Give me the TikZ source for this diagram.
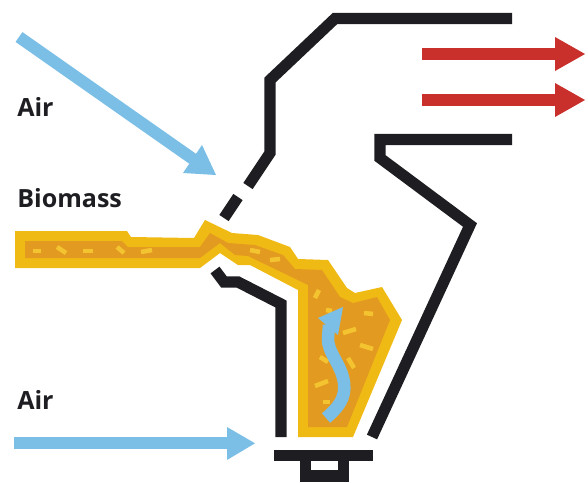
\documentclass[tikz,border=0pt]{standalone}
\usepackage{fontspec}
\setmainfont{Open Sans}
\definecolor{airblue}{HTML}{7BBFE6}
\definecolor{flue}{HTML}{C9302C}
\definecolor{fuelrim}{HTML}{F0BA14}
\definecolor{fuelcore}{HTML}{E39A20}
\definecolor{fleck}{HTML}{F4C430}
\definecolor{wall}{HTML}{1E1E22}
\tikzset{
  wallline/.style={draw=wall,line width=8.4pt,line join=miter,line cap=butt},
  flowshaft/.style={line width=9pt,line cap=butt},
  fleckmark/.style={draw=fleck,line width=3.4pt},
  label/.style={font=\bfseries\fontsize{18.8}{22}\selectfont,text=wall,anchor=base west,inner sep=0pt},
}
\begin{document}
\begin{tikzpicture}[x=0.75pt,y=-0.75pt]
\useasboundingbox (0,0) rectangle (588,482);

% fuel bed: rim and core
\fill[fuelrim] (15,231) -- (127,231) -- (131,237) -- (194,238) -- (205,220) -- (232,233) -- (258,235) -- (290,247)
  -- (298,259) -- (328,260) -- (347,288) -- (355,293) -- (382,287) -- (402,320) -- (353,437) -- (298,437) -- (298,290)
  -- (250,265) -- (238,265) -- (220,253) -- (200,268) -- (15,268) -- cycle;
\fill[fuelcore] (25,241) -- (122,241) -- (128,247) -- (200,247) -- (210,233) -- (228,243) -- (255,245) -- (283,255)
  -- (295,269) -- (322,270) -- (340,297) -- (353,303) -- (377,297) -- (390,320) -- (347,427) -- (308,427) -- (308,285)
  -- (248,256) -- (235,255) -- (220,243) -- (200,258) -- (25,258) -- cycle;

% fuel particles
\foreach \xa/\ya/\xb/\yb in {
  33/251/41/251, 57/247/66/253, 83/251/93/251, 117/247/124/253, 141/252/152/250,
  250/250/260/252, 270/260/280/259, 315/298/319/290, 326/310/332/311, 364/313/373/314,
  343/333/356/329, 360/345/373/349, 320/357/328/362, 348/358/354/368, 315/386/328/381, 323/402/330/402}
  \draw[fleckmark] (\xa,\ya) -- (\xb,\yb);

% furnace walls
\draw[wallline] (512,18.5) -- (335,18.5) -- (270,80) -- (270,153) -- (248,186);
\draw[wallline] (238,197) -- (224,218);
\draw[wallline] (512,139.5) -- (380,139.5) -- (380,158) -- (470,225) -- (372,437);
\draw[wallline] (215,270) -- (224,282) -- (238,282) -- (281,304) -- (281,437);
\draw[wallline] (274,455.5) -- (373,455.5);
\draw[wallline] (305.5,459) -- (305.5,476) -- (343.5,476) -- (343.5,459);

% air and flue gas flows
\coordinate (airTopA) at (19,37);
\coordinate (airTopB) at (193,159);
\draw[flowshaft,draw=airblue] (airTopA) -- (airTopB);
\fill[airblue] (216,175) -- (202,145) -- (183,173) -- cycle;

\coordinate (airLowA) at (14,443.3);
\coordinate (airLowB) at (228,443.3);
\draw[flowshaft,draw=airblue] (airLowA) -- (airLowB);
\fill[airblue] (255,443.3) -- (227,427) -- (227,460) -- cycle;

\coordinate (flueUpA) at (422,54);
\coordinate (flueUpB) at (556,54);
\draw[flowshaft,draw=flue] (flueUpA) -- (flueUpB);
\fill[flue] (585,54) -- (555,37) -- (555,71) -- cycle;

\coordinate (flueLowA) at (422,100);
\coordinate (flueLowB) at (556,100);
\draw[flowshaft,draw=flue] (flueLowA) -- (flueLowB);
\fill[flue] (585,100) -- (555,83) -- (555,117) -- cycle;

% rising air inside the bed
\coordinate (riseA) at (326,418);
\coordinate (riseB) at (329,325);
\draw[draw=airblue,line width=9.4pt] (riseA) .. controls (338,408) and (346,398) .. (344,383)
  .. controls (342,365) and (327,352) .. (328,338) -- (riseB);
\fill[airblue] (343,307) -- (318,318) -- (338,335) -- cycle;

% labels
\node[label] (airTop) at (17,116) {Air};
\node[label] (biomass) at (17,207) {Biomass};
\node[label] (airLow) at (17,409) {Air};
\end{tikzpicture}
\end{document}
